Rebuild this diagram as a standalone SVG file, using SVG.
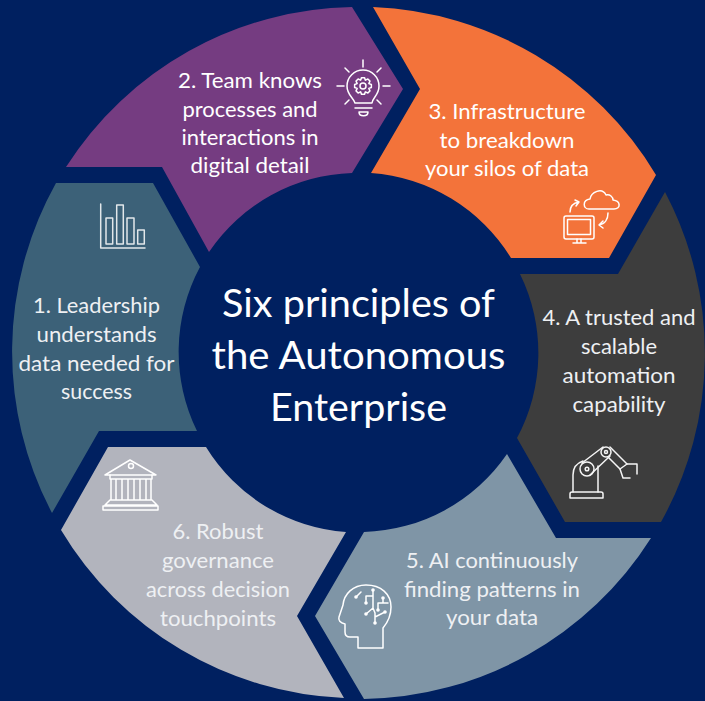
<svg xmlns="http://www.w3.org/2000/svg" width="705" height="701" viewBox="0 0 705 701">
<style>
text{font-family:"Lato","Carlito","Liberation Sans",sans-serif;font-size:21px;fill:#fff;text-anchor:middle}
.s{fill:#eef0f3}
.title{font-size:38px}
.i{fill:none;stroke:#fff;stroke-width:1.5;stroke-linejoin:round;stroke-linecap:round}
.d{fill:#fff;stroke:none}
</style>
<rect width="705" height="701" fill="#002060"/>
<g id="node-1">
<path fill="#3C6178" d="M52,513A346,346 0 0 1 56,183L153,183L200,267A179.5,179.5 0 0 0 197,431L99,431Z"/>
<g class="i" opacity=".85"><path d="M100.700,204V248H145"/><rect x="106" y="218" width="6.700" height="26"/><rect x="116.700" y="205" width="6.600" height="39"/><rect x="127" y="218" width="7" height="26"/><rect x="137.700" y="230" width="6.600" height="14"/></g>
<text class="s" x="96.500" y="313" textLength="127" lengthAdjust="spacingAndGlyphs">1. Leadership</text>
<text class="s" x="96.500" y="342" textLength="120" lengthAdjust="spacingAndGlyphs">understands</text>
<text class="s" x="96.500" y="371" textLength="156" lengthAdjust="spacingAndGlyphs">data needed for</text>
<text class="s" x="96.500" y="399" textLength="71" lengthAdjust="spacingAndGlyphs">success</text>
</g>
<g id="node-2">
<path fill="#753C81" d="M66,167A346,346 0 0 1 352,7L403,89L352,173A179.5,179.5 0 0 0 209,252L162,167Z"/>
<g class="i"><path d="M355,103C353,97 347,95 347,86A16,16 0 0 1 379,86C379,95 373,97 372,103Z"/><path d="M355,108H372M359,112H368C368,117 359,117 359,112ZM363,60V67M337,86H344M383,86H390M345,68L349,72M381,68L377,72M345,104L349,100M381,104L377,100"/>
<polygon transform="translate(363,86)" points="8.37,-1.48 8.37,1.48 5.82,2.41 6.96,4.88 4.88,6.96 2.41,5.82 1.48,8.37 -1.48,8.37 -2.41,5.82 -4.88,6.96 -6.96,4.88 -5.82,2.41 -8.37,1.48 -8.37,-1.48 -5.82,-2.41 -6.96,-4.88 -4.88,-6.96 -2.41,-5.82 -1.48,-8.37 1.48,-8.37 2.41,-5.82 4.88,-6.96 6.96,-4.88 5.82,-2.41"/><circle cx="363" cy="86" r="3"/></g>
<text x="250" y="88" textLength="144" lengthAdjust="spacingAndGlyphs">2. Team knows</text>
<text x="250" y="117" textLength="135" lengthAdjust="spacingAndGlyphs">processes and</text>
<text x="250" y="145" textLength="137" lengthAdjust="spacingAndGlyphs">interactions in</text>
<text x="250" y="173" textLength="119" lengthAdjust="spacingAndGlyphs">digital detail</text>
</g>
<g id="node-3">
<path fill="#F3733A" d="M373,7A346,346 0 0 1 656,175L609,258L511,258A179.5,179.5 0 0 0 371,173L420,89Z"/>
<g class="i"><rect x="564" y="216" width="30" height="23" rx="2"/><rect x="567.500" y="219.500" width="23" height="15"/><path d="M577,239V243M581,239V243M573,243H586"/>
<path d="M589,209C583,209 582,200 590,199C591,192 602,187 606,195C610,194 613,197 613,200C621,201 621,209 614,209Z"/>
<path d="M570,212C570,207 573,203 579,202M575,200L579,202L576,206M608,213C608,219 605,224 599,225M603,221L599,225L603,228"/></g>
<text x="507" y="119" textLength="157" lengthAdjust="spacingAndGlyphs">3. Infrastructure</text>
<text x="507" y="148" textLength="135" lengthAdjust="spacingAndGlyphs">to breakdown</text>
<text x="507" y="176" textLength="164" lengthAdjust="spacingAndGlyphs">your silos of data</text>
</g>
<g id="node-4">
<path fill="#3D3D3D" d="M665,192A346,346 0 0 1 661,522L565,522L517,438A179.5,179.5 0 0 0 520,274L618,274Z"/>
<g class="i" opacity=".95"><path d="M570,498V494Q570,492 572,492H601Q603,492 603,494V498Z"/><path d="M573,492V475C573,468 577,463 583,461M598,492V466"/>
<path d="M582,463L603,447M590,475L610,456M610,447L627,464M608,457L620,469"/><circle cx="606" cy="452" r="5"/><circle cx="606" cy="452" r="1.500"/><circle cx="587" cy="469" r="7"/><circle cx="587" cy="469" r="1.800"/>
<path d="M620,469L627,464H637V474M620,469L623,478H630"/></g>
<text class="s" x="619" y="325" textLength="153" lengthAdjust="spacingAndGlyphs">4. A trusted and</text>
<text class="s" x="619" y="354" textLength="76" lengthAdjust="spacingAndGlyphs">scalable</text>
<text class="s" x="619" y="383" textLength="113" lengthAdjust="spacingAndGlyphs">automation</text>
<text class="s" x="619" y="412" textLength="93" lengthAdjust="spacingAndGlyphs">capability</text>
</g>
<g id="node-5">
<path fill="#7F95A6" d="M651,538A346,346 0 0 1 364,699L315,616L364,532A179.5,179.5 0 0 0 507,454L556,538Z"/>
<g class="i"><path d="M358,648H383V628C388,622 391,616 391,607C391,594 381,585 366,585C353,585 344,594 343,605L339,617C338,620 340,623 345,624V632C345,635 347,637 350,637H358Z"/>
<path d="M356,597L361,592M373,590V596H366V603M373,596V608L366,614M373,608L375,613V623M375,617L385,612M383,598V603M378,603H388M378,603V610"/>
<circle class="d" cx="356" cy="597" r="1.800"/><circle class="d" cx="373" cy="590" r="1.800"/><circle class="d" cx="366" cy="603" r="1.800"/><circle class="d" cx="366" cy="614" r="1.800"/><circle class="d" cx="375" cy="623" r="1.800"/><circle class="d" cx="385" cy="612" r="1.800"/><circle class="d" cx="383" cy="598" r="1.800"/><circle class="d" cx="378" cy="610" r="1.800"/></g>
<text class="s" x="492" y="568" textLength="172" lengthAdjust="spacingAndGlyphs">5. AI continuously</text>
<text class="s" x="492" y="597" textLength="176" lengthAdjust="spacingAndGlyphs">finding patterns in</text>
<text class="s" x="492" y="625" textLength="92" lengthAdjust="spacingAndGlyphs">your data</text>
</g>
<g id="node-6">
<path fill="#B2B4BD" d="M344,698A346,346 0 0 1 61,530L108,447L206,447A179.5,179.5 0 0 0 346,532L297,616Z"/>
<g class="i"><path d="M105,475L130,460L156,475Z"/><circle cx="131" cy="466" r="2.500"/><path d="M110,475V479H152V475M111,500V479M116,500V479M122,500V479M128,500V479M134,500V479M140,500V479M146,500V479M151,500V479M110,500H152L157,505H105ZM103,506H158V510H103Z"/></g>
<text x="218" y="539" class="s" textLength="91" lengthAdjust="spacingAndGlyphs">6. Robust</text>
<text x="218" y="568" class="s" textLength="112" lengthAdjust="spacingAndGlyphs">governance</text>
<text x="218" y="597" class="s" textLength="144" lengthAdjust="spacingAndGlyphs">across decision</text>
<text x="218" y="626" class="s" textLength="116" lengthAdjust="spacingAndGlyphs">touchpoints</text>
</g>
<g id="center">
<text class="title" x="358.500" y="317" textLength="273" lengthAdjust="spacingAndGlyphs">Six principles of</text>
<text class="title" x="358.500" y="369" textLength="294" lengthAdjust="spacingAndGlyphs">the Autonomous</text>
<text class="title" x="358.500" y="421" textLength="177" lengthAdjust="spacingAndGlyphs">Enterprise</text>
</g>
</svg>
